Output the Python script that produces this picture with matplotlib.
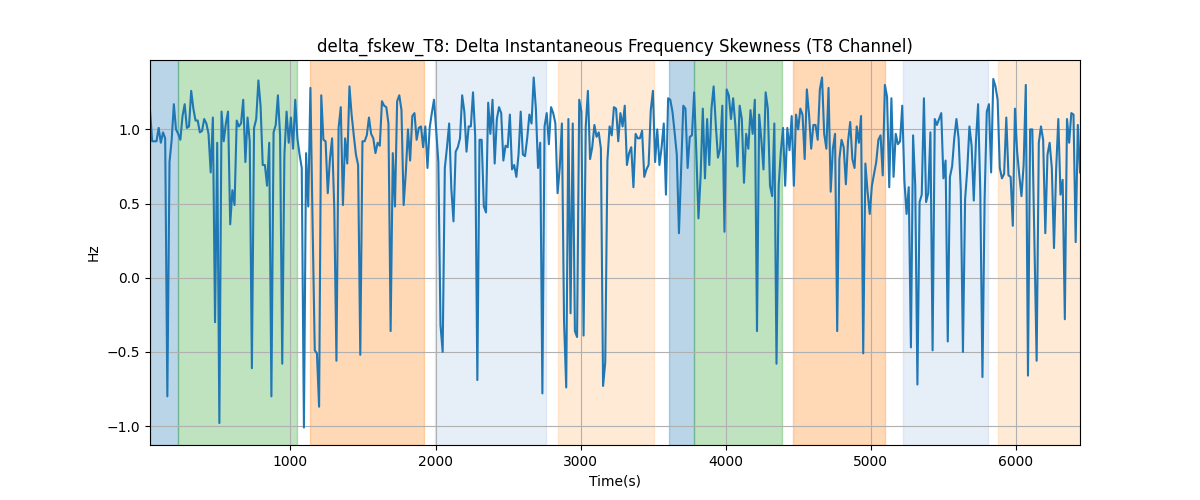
import numpy as np
import matplotlib
matplotlib.use("Agg")
import matplotlib.pyplot as plt

# values, left to right (Hz)
seg1 = [1.13, 0.92, 0.92, 0.92, 1.01, 0.91, 0.98, 0.94, -0.80, 0.78,
        0.93, 1.17, 1.00, 0.97, 0.93, 1.09, 1.17, 1.01, 1.02, 1.26,
        1.14, 1.06, 1.06, 0.98, 0.99, 1.07, 1.04, 0.97, 0.71, 1.08,
        -0.30, 0.91, -0.98, 1.12, 0.92, 1.04, 1.12, 0.36, 0.59, 0.49,
        1.06, 1.02, 1.04, 1.20, 0.78, 1.08, 0.92, -0.61, 1.01, 1.07,
        1.33, 1.16, 0.76, 0.76]
seg2 = [0.62, 0.91, -0.80, 0.98, 1.03, 1.23, 0.96, -0.58, 0.83, 1.12,
        0.91, 1.08, 0.87, 1.20, 0.94, 0.83, 0.74, -1.01, 0.84, 0.48,
        1.28, 0.36, -0.49, -0.51, -0.87, 1.23, 0.93, 0.92, 0.57, 0.80,
        0.94, 0.47, -0.56, 1.01, 1.15, 0.49, 0.94, 0.77, 1.29, 1.10,
        0.96, 0.83, 0.76, -0.52, 0.92, 0.92, 0.96, 1.08, 0.97, 0.94,
        0.84, 0.91, 0.89, 1.19]
seg3 = [1.16, 1.15, 1.04, -0.36, 0.84, 0.48, 1.19, 1.23, 1.13, 0.49,
        0.71, 1.00, 0.79, 1.09, 1.11, 0.93, 1.01, 1.02, 0.88, 1.02,
        0.74, 1.01, 1.11, 1.20, 1.00, 0.78, -0.32, -0.50, 0.74, 0.88,
        1.04, 0.60, 0.38, 0.85, 0.88, 0.94, 1.23, 1.12, 0.85, 1.02,
        1.02, 1.25, 0.96, -0.69, 0.93, 0.93, 0.48, 0.44, 1.18, 0.97,
        1.20, 0.77, 1.07]
seg4 = [1.15, 1.11, 0.79, 0.89, 0.88, 1.10, 0.73, 0.76, 0.68, 0.83,
        1.12, 0.83, 0.82, 0.94, 1.10, 1.04, 1.35, 1.14, 0.74, 0.91,
        -0.78, 1.02, 1.11, 0.90, 1.15, 1.11, 1.04, 0.57, 0.74, 1.04,
        -0.30, -0.74, 1.07, -0.24, 1.04, -0.36, -0.40, 1.20, 1.12, -0.39,
        1.02, 1.26, 0.80, 0.88, 1.03, 0.95, 0.98, 0.87, -0.73, -0.57,
        0.79, 1.02, 0.96, 1.15]
seg5 = [1.14, 0.92, 1.11, 1.02, 1.16, 0.76, 0.84, 0.88, 0.61, 0.97,
        0.94, 0.94, 0.99, 0.68, 0.73, 0.76, 1.13, 1.26, 0.78, 1.00,
        0.76, 0.88, 1.04, 0.56, 1.21, 1.20, 1.12, 0.98, 0.83, 0.30,
        0.74, 1.16, 1.14, 0.74, 0.95, 0.96, 1.25, 0.85, 0.40, 0.69,
        1.14, 0.67, 1.07, 0.76, 1.14, 1.29, 1.03, 0.81, 0.87, 1.16,
        0.31, 1.27, 1.23]
seg6 = [1.07, 1.21, 1.03, 0.75, 1.16, 1.07, 0.64, 0.97, 0.87, 1.13,
        0.97, 1.20, -0.36, 1.10, 0.93, 0.73, 1.25, 1.14, 0.62, 0.55,
        1.04, -0.58, 0.62, 0.85, 1.01, 0.62, 1.01, 0.86, 1.09, 0.62,
        1.10, 1.00, 1.14, 1.10, 0.80, 1.27, 1.10, 0.87, 1.03, 1.03,
        0.93, 1.27, 1.35, 0.97, 0.87, 1.28, 0.58, 0.87, 0.97, -0.36,
        0.80, 0.93, 0.88, 0.63]
seg7 = [0.92, 1.05, 0.80, 0.74, 1.02, 0.91, 1.09, -0.51, 0.77, 0.58,
        0.43, 0.62, 0.70, 0.78, 0.93, 0.96, 0.69, 1.30, 1.22, 0.61,
        1.21, 0.68, 0.97, 0.90, 0.92, 1.16, 0.65, 0.43, 0.61, -0.47,
        0.96, 0.62, -0.72, 0.51, 0.56, 1.21, 0.51, 0.57, 0.98, -0.49,
        1.07, 1.03, 1.07, 1.11, 0.67, 0.79, -0.43, 0.68, 0.75, 0.94,
        1.07, 0.94, 0.59]
seg8 = [-0.50, 0.53, 0.73, 1.02, 0.89, 0.52, 0.92, 1.17, 0.58, -0.67,
        0.53, 1.12, 1.17, 0.71, 1.34, 1.29, 1.20, 0.74, 0.67, 0.70,
        1.08, 0.69, 0.68, 0.35, 1.14, 0.85, 0.69, 0.55, 0.76, 1.30,
        -0.66, 1.00, 1.00, 0.22, -0.56, 0.91, 1.02, 0.93, 0.30, 0.83,
        0.91, 0.74, 0.20, 0.73, 1.07, 0.56, 0.66, -0.28, 1.07, 0.91,
        1.11, 1.10, 0.24, 1.03, 0.71]

values = np.array(seg1 + seg2 + seg3 + seg4 + seg5 + seg6 + seg7 + seg8)
t_start, t_end = 32, 6441
times = np.linspace(t_start, t_end, len(values))

# shaded phases: (start, end, colour)
span_starts = [t_start, 228, 1138, 1993, 2841, 3609, 3779, 4464, 5221, 5876]
span_ends = [228, 1046, 1917, 2763, 3508, 3779, 4384, 5094, 5805, t_end]
span_colors = ["tab:blue", "tab:green", "tab:orange", "#aec7e8", "#ffbb78",
               "tab:blue", "tab:green", "tab:orange", "#aec7e8", "#ffbb78"]

plt.figure(figsize=(12, 5))

for s, e, c in zip(span_starts, span_ends, span_colors):
    plt.axvspan(s, e, color=c, alpha=0.3)

plt.plot(times, values, color="tab:blue", linewidth=1.5)

plt.xlim(times[0], times[-1])
plt.title("delta_fskew_T8: Delta Instantaneous Frequency Skewness (T8 Channel)")
plt.xlabel("Time(s)")
plt.ylabel("Hz")
plt.grid(True)

plt.savefig("out.png", dpi=100)
